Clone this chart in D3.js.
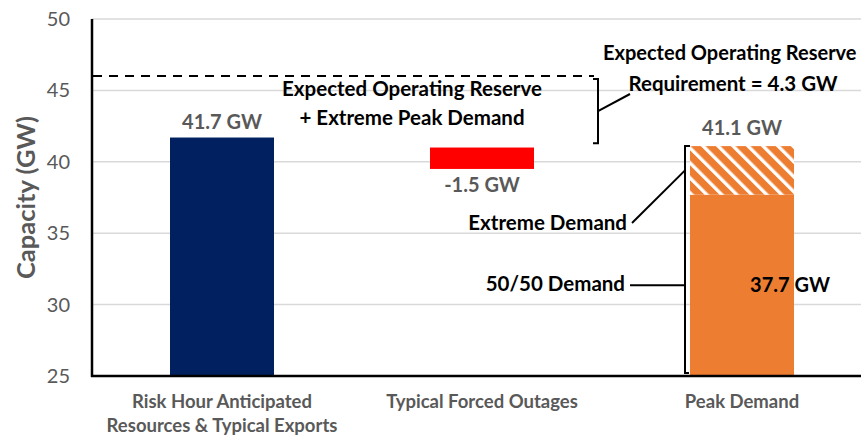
<!DOCTYPE html>
<html><head><meta charset="utf-8">
<script src="https://cdn.jsdelivr.net/npm/d3@7"></script>
<style>
html,body{margin:0;padding:0;background:#fff;}
svg{display:block;font-family:Lato, "Open Sans", sans-serif;}
</style></head>
<body>
<svg id="chart" width="861" height="436"></svg>
<script>
// ---- data ----
const categories = ["Risk Hour Anticipated|Resources & Typical Exports", "Typical Forced Outages", "Peak Demand"];
const barBottoms = [25, 39.5, 25];
const barTops = [41.7, 41.0, 37.7];
const barColors = ["#002060", "#FF0000", "#ED7D31"];
const valueLabels = ["41.7 GW", "-1.5 GW", "41.1 GW"];
const extremeRange = [37.7, 41.1];      // hatched extreme demand segment
const reserveLine = 46;                 // dashed line level
const reserveBracket = [41.3, 45.8];    // bracket for operating reserve
const yTicks = [25, 30, 35, 40, 45, 50];

const W = 861, H = 436;
const svg = d3.select("#chart");

const y = d3.scaleLinear().domain([25, 50]).range([376, 19]);
const x = d3.scaleBand().domain(categories).range([92, 872]).paddingInner(0.6).paddingOuter(0.3);

const gray = "#595959";

// pattern
const defs = svg.append("defs");
const pat = defs.append("pattern").attr("id", "hatch").attr("patternUnits", "userSpaceOnUse")
  .attr("width", 10.6).attr("height", 10.6).attr("patternTransform", "rotate(-45)");
pat.append("rect").attr("width", 10.6).attr("height", 10.6).attr("fill", "#ED7D31");
pat.append("rect").attr("x", 0).attr("width", 3.4).attr("height", 10.6).attr("fill", "#fff");

// gridlines
svg.append("g").selectAll("line").data(yTicks.filter(d => d > 25)).join("line")
  .attr("x1", 92).attr("x2", W).attr("y1", d => y(d)).attr("y2", d => y(d))
  .attr("stroke", "#d9d9d9").attr("stroke-width", 1.5);

// bars
svg.append("g").selectAll("rect").data(categories).join("rect")
  .attr("x", d => x(d)).attr("width", x.bandwidth())
  .attr("y", (d, i) => y(barTops[i]))
  .attr("height", (d, i) => y(barBottoms[i]) - y(barTops[i]))
  .attr("fill", (d, i) => barColors[i]);

// hatched extreme segment
svg.append("rect").attr("x", x(categories[2])).attr("width", x.bandwidth())
  .attr("y", y(extremeRange[1])).attr("height", y(extremeRange[0]) - y(extremeRange[1]))
  .attr("fill", "url(#hatch)");

// axes
const yAxis = svg.append("g").attr("transform", "translate(92,0)")
  .call(d3.axisLeft(y).tickValues(yTicks).tickSize(0).tickPadding(22));
yAxis.select(".domain").remove();
yAxis.selectAll("text").attr("fill", gray).style("font-size", "20px").style("font-family", "Lato");

svg.append("line").attr("x1", 92).attr("x2", 92).attr("y1", y(50)).attr("y2", y(25) + 1)
  .attr("stroke", "#000").attr("stroke-width", 2.5);
svg.append("line").attr("x1", 91).attr("x2", W).attr("y1", y(25)).attr("y2", y(25))
  .attr("stroke", "#000").attr("stroke-width", 2.5);

// y title
svg.append("text").attr("transform", `translate(35,${(y(25) + y(50)) / 2 + 0}) rotate(-90)`)
  .attr("text-anchor", "middle").attr("fill", gray).style("font-size", "25.5px").style("font-weight", "bold")
  .text("Capacity (GW)");

// x labels
const xl = svg.append("g");
categories.forEach(c => {
  const lines = c.split("|");
  const t = xl.append("text").attr("x", x(c) + x.bandwidth() / 2).attr("y", 408)
    .attr("text-anchor", "middle").attr("fill", gray).style("font-size", "18.5px").style("font-weight", "bold");
  lines.forEach((l, i) => t.append("tspan").attr("x", x(c) + x.bandwidth() / 2).attr("dy", i ? 24 : 0).text(l));
});

// value labels
const vl = [y(barTops[0]) - 9, y(barBottoms[1]) + 23, y(extremeRange[1]) - 11];
valueLabels.forEach((v, i) => {
  svg.append("text").attr("x", x(categories[i]) + x.bandwidth() / 2).attr("y", vl[i])
    .attr("text-anchor", "middle").attr("fill", gray)
    .style("font-size", "20px").style("font-weight", "bold").text(v);
});
// 37.7 GW inner label
svg.append("text").attr("x", x(categories[2]) + x.bandwidth() / 2 + 48).attr("y", y((25 + extremeRange[0]) / 2) + 7)
  .attr("text-anchor", "middle").attr("fill", "#000")
  .style("font-size", "20px").style("font-weight", "bold").text(extremeRange[0] + " GW");

// dashed reserve line
const bx = 598;
svg.append("line").attr("x1", 93).attr("x2", bx - 4).attr("y1", y(reserveLine)).attr("y2", y(reserveLine))
  .attr("stroke", "#000").attr("stroke-width", 2).attr("stroke-dasharray", "9,7");

// reserve bracket
const b0 = y(reserveBracket[1]), b1 = y(reserveBracket[0]), bm = (b0 + b1) / 2;
svg.append("path").attr("d", `M${bx - 5},${b0}H${bx}V${b1}H${bx - 5}`)
  .attr("fill", "none").attr("stroke", "#000").attr("stroke-width", 2);
svg.append("line").attr("x1", bx).attr("y1", bm).attr("x2", 630).attr("y2", 94)
  .attr("stroke", "#000").attr("stroke-width", 2);

const ann = (txt, xx, yy, anchor, size) => svg.append("text").attr("x", xx).attr("y", yy)
  .attr("text-anchor", anchor || "middle").attr("fill", "#000")
  .style("font-size", (size || 20.5) + "px").style("font-weight", "bold").text(txt);
ann("Expected Operating Reserve", 603, 60, "start", 20);
ann("Requirement = 4.3 GW", 733, 91);
ann("Expected Operating Reserve", 412, 96);
ann("+ Extreme Peak Demand", 412, 125);

// peak demand bracket
const px = 685;
svg.append("path").attr("d", `M${px + 5},${y(extremeRange[1])}H${px}V${y(25) - 3}H${px + 4}`)
  .attr("fill", "none").attr("stroke", "#000").attr("stroke-width", 2);
const em = y((extremeRange[0] + extremeRange[1]) / 2);
const dm = y((25 + extremeRange[0]) / 2);
svg.append("line").attr("x1", 632).attr("y1", 223).attr("x2", px).attr("y2", em)
  .attr("stroke", "#000").attr("stroke-width", 2);
svg.append("line").attr("x1", 630).attr("y1", dm).attr("x2", px).attr("y2", dm)
  .attr("stroke", "#000").attr("stroke-width", 2);
ann("Extreme Demand", 627, 230, "end");
ann("50/50 Demand", 625, 291, "end");
</script>
</body></html>
